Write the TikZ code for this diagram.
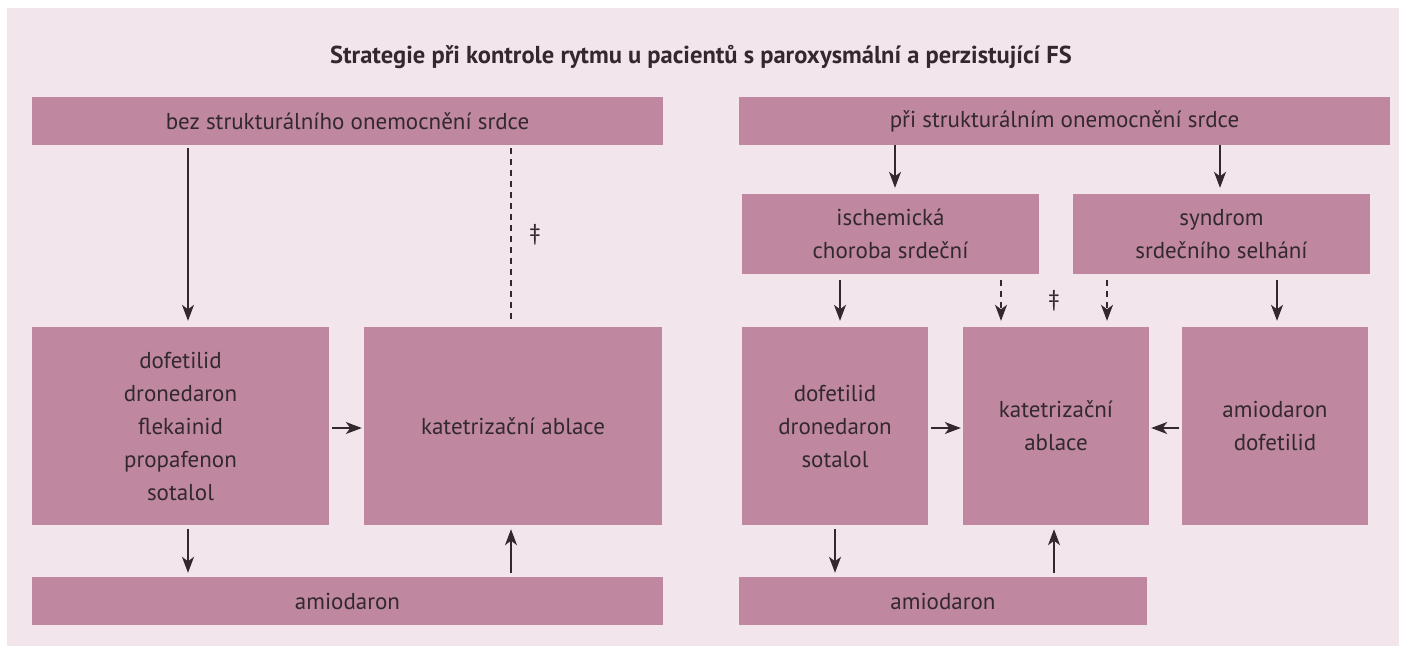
\documentclass[tikz,border=0pt]{standalone}
\usepackage{fontspec}
\setmainfont{PT Sans}
\usetikzlibrary{arrows.meta}
\definecolor{panelbg}{RGB}{242,230,236}
\definecolor{boxfill}{RGB}{192,136,160}
\definecolor{boxtext}{RGB}{50,40,45}
\tikzset{
	% boxes of the flow chart and the two kinds of connector
	box/.style={rectangle,fill=boxfill,text=boxtext,align=center,inner sep=0,
		font=\fontsize{23}{33}\selectfont},
	arr/.style={-{Stealth[length=16pt,width=12pt,inset=4.5pt]},line width=1.3pt,color=boxtext},
	dash arr/.style={arr,dash pattern=on 5.5pt off 5.5pt},
	mark sign/.style={text=boxtext,font=\fontsize{23}{24}\selectfont}
}

\begin{document}
\begin{tikzpicture}[x=1pt,y=-1pt]
	\useasboundingbox (0,0) rectangle (1402,646);
	\fill[panelbg] (7,8) rectangle (1399,646);

	\node(title)[text=boxtext,font=\fontsize{24.5}{28}\selectfont\bfseries] at (701,57)
		{Strategie při kontrole rytmu u pacientů s paroxysmální a perzistující FS};

	% left part
	\node(top1)[box,minimum width=631pt,minimum height=48pt] at (347.5,121)
		{bez strukturálního onemocnění srdce};
	\node(drugs1)[box,minimum width=297pt,minimum height=198pt] at (180.5,426)
		{dofetilid\\dronedaron\\flekainid\\propafenon\\sotalol};
	\node(abl1)[box,minimum width=298pt,minimum height=198pt] at (513,426)
		{katetrizační ablace};
	\node(amio1)[box,minimum width=631pt,minimum height=48pt] at (347.5,601)
		{amiodaron};

	% right part
	\node(top2)[box,minimum width=651pt,minimum height=48pt] at (1064.5,121)
		{při strukturálním onemocnění srdce};
	\node(isch)[box,minimum width=297pt,minimum height=80pt] at (890.5,234)
		{ischemická\\choroba srdeční};
	\node(synd)[box,minimum width=297pt,minimum height=80pt] at (1221.5,234)
		{syndrom\\srdečního selhání};
	\node(drugs2)[box,minimum width=186pt,minimum height=198pt] at (835,426)
		{dofetilid\\dronedaron\\sotalol};
	\node(abl2)[box,minimum width=186pt,minimum height=198pt] at (1056,426)
		{katetrizační\\ablace};
	\node(drugs3)[box,minimum width=186pt,minimum height=198pt] at (1275,426)
		{amiodaron\\dofetilid};
	\node(amio2)[box,minimum width=408pt,minimum height=48pt] at (943,601)
		{amiodaron};

	\node(dag1)[mark sign] at (535,235) {‡};
	\node(dag2)[mark sign] at (1054,301) {‡};

	% columns and rows where the connectors run
	\coordinate(c1) at (188,0);
	\coordinate(c2) at (511,0);
	\coordinate(c3) at (895,0);
	\coordinate(c4) at (1220,0);
	\coordinate(c5) at (840,0);
	\coordinate(c6) at (1001,0);
	\coordinate(c7) at (1107,0);
	\coordinate(c8) at (1277,0);
	\coordinate(c9) at (835,0);
	\coordinate(c10) at (1054,0);
	\coordinate(r1) at (0,428);

	\draw[arr,shorten <=3pt,shorten >=6pt] (top1.south -| c1) -- (drugs1.north -| c1);
	\draw[line width=1.3pt,color=boxtext,dash pattern=on 5.5pt off 5.5pt,shorten <=3pt,shorten >=5pt]
		(top1.south -| c2) -- (abl1.north -| c2);
	\draw[arr,shorten <=3pt,shorten >=2pt] (drugs1.east |- r1) -- (abl1.west |- r1);
	\draw[arr,shorten <=4pt,shorten >=4pt] (drugs1.south -| c1) -- (amio1.north -| c1);
	\draw[arr,shorten <=4pt,shorten >=4pt] (amio1.north -| c2) -- (abl1.south -| c2);

	\draw[arr,shorten <=0pt,shorten >=6pt] (top2.south -| c3) -- (isch.north -| c3);
	\draw[arr,shorten <=0pt,shorten >=6pt] (top2.south -| c4) -- (synd.north -| c4);
	\draw[arr,shorten <=6pt,shorten >=6pt] (isch.south -| c5) -- (drugs2.north -| c5);
	\draw[dash arr,shorten <=6pt,shorten >=6pt] (isch.south -| c6) -- (abl2.north -| c6);
	\draw[dash arr,shorten <=6pt,shorten >=6pt] (synd.south -| c7) -- (abl2.north -| c7);
	\draw[arr,shorten <=6pt,shorten >=6pt] (synd.south -| c8) -- (drugs3.north -| c8);
	\draw[arr,shorten <=3pt,shorten >=2pt] (drugs2.east |- r1) -- (abl2.west |- r1);
	\draw[arr,shorten <=3pt,shorten >=2pt] (drugs3.west |- r1) -- (abl2.east |- r1);
	\draw[arr,shorten <=4pt,shorten >=4pt] (drugs2.south -| c9) -- (amio2.north -| c9);
	\draw[arr,shorten <=4pt,shorten >=4pt] (amio2.north -| c10) -- (abl2.south -| c10);
\end{tikzpicture}
\end{document}
